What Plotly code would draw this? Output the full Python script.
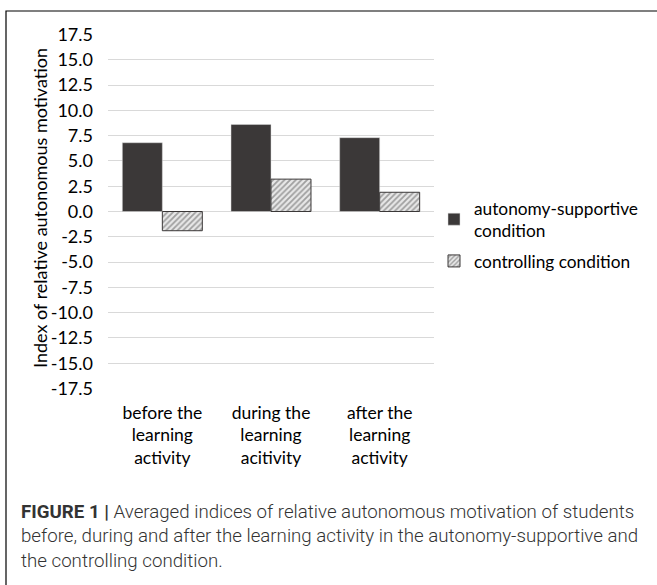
import plotly.graph_objects as go

categories = ["before the<br>learning<br>activity", "during the<br>learning<br>acitivity", "after the<br>learning<br>activity"]
autonomy_values = [6.8, 8.6, 7.3]
controlling_values = [-1.9, 3.2, 1.9]
series_names = ["autonomy-supportive<br>condition", "controlling condition"]
tick_vals = [-17.5 + 2.5 * i for i in range(15)]
tick_text = [f"{v:.1f}" for v in tick_vals]
y_title = "Index of relative autonomous motivation"

FONT = "Lato"

fig = go.Figure()
fig.add_trace(go.Bar(
    x=categories, y=autonomy_values, name=series_names[0], legendgroup="a",
    marker=dict(color="#3b3838", line=dict(color="#d9d9d9", width=0.5)),
))
fig.add_trace(go.Bar(
    x=categories, y=controlling_values, name=series_names[1], legendgroup="b",
    marker=dict(color="#ffffff", line=dict(color="#3b3838", width=1),
                pattern=dict(shape="/", fgcolor="#555555", bgcolor="#e8e8e8", size=4, solidity=0.45)),
))

fig.update_layout(
    width=657, height=585,
    margin=dict(l=108, r=223, t=34, b=196),
    paper_bgcolor="white", plot_bgcolor="white",
    barmode="group", bargap=0.264, bargroupgap=0,
    font=dict(family=FONT, color="#000000", size=17),
    showlegend=True,
    legend=dict(x=1.0, y=0.56, xanchor="left", yanchor="top",
                font=dict(family=FONT, size=17.3, color="#000000"),
                itemwidth=30, tracegroupgap=5, bgcolor="rgba(0,0,0,0)"),
    xaxis=dict(showgrid=False, showline=False, ticks="", ticklabelstandoff=11,
               tickfont=dict(size=17.5, family=FONT)),
    yaxis=dict(range=[-17.55, 17.55], tickvals=tick_vals, ticktext=tick_text,
               showgrid=True, gridcolor="#d9d9d9", gridwidth=1,
               zeroline=True, zerolinecolor="#d9d9d9", zerolinewidth=1,
               showline=False, ticks="", ticklabelstandoff=14,
               tickfont=dict(size=18, family=FONT)),
)

fig.add_annotation(
    xref="paper", yref="paper", x=(40 - 108) / 326, y=0.51,
    xanchor="center", yanchor="middle", textangle=-90, showarrow=False,
    text=y_title, font=dict(size=18, family=FONT, color="#000000"),
)

fig.add_shape(type="rect", xref="paper", yref="paper",
              x0=(6 - 108) / 326, x1=2.0, y0=-1.0, y1=(389 - 11) / 355,
              line=dict(color="#000000", width=1.2), fillcolor="rgba(0,0,0,0)", layer="below")

fig.add_annotation(
    xref="paper", yref="paper", x=(19 - 108) / 326, y=(389 - 499) / 355,
    xanchor="left", yanchor="top", align="left", showarrow=False,
    text="<b>FIGURE 1 |</b> Averaged indices of relative autonomous motivation of students<br>"
         "before, during and after the learning activity in the autonomy-supportive and<br>"
         "the controlling condition.",
    font=dict(family="Roboto", size=18.7, color="#333333", weight=300),
)

fig.write_html("out.html")
